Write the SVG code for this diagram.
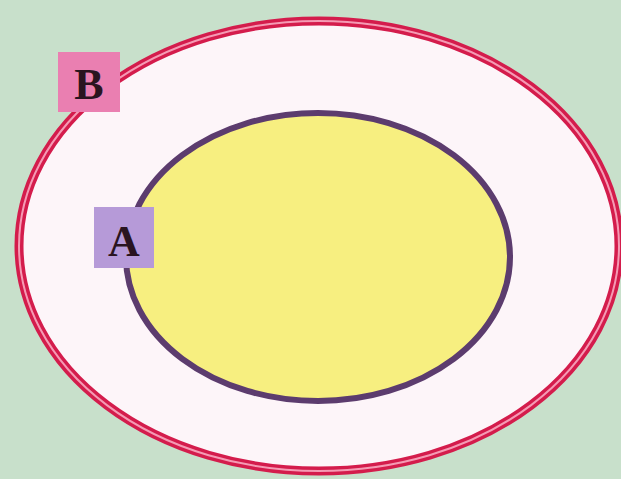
<svg xmlns="http://www.w3.org/2000/svg" width="621" height="479" viewBox="0 0 621 479">
<style>
.lbl{font-family:"Liberation Serif","DejaVu Serif",serif;font-weight:bold;font-size:44px;fill:#2a1420;text-anchor:middle}
</style>
<rect x="0" y="0" width="621" height="479" fill="#c8e0cb"/>
<g id="B">
<ellipse cx="319" cy="246" rx="300" ry="225" fill="#fdf5f9" stroke="#d41c4c" stroke-width="9"/>
<ellipse cx="319" cy="246" rx="300" ry="225" fill="none" stroke="#f59ab4" stroke-width="2"/>
<rect x="58" y="52" width="62" height="60" fill="#ea7fb1"/>
<text class="lbl" x="89" y="99">B</text>
</g>
<g id="A">
<ellipse cx="318" cy="257" rx="192" ry="144" fill="#f7ef80" stroke="#5c3c6e" stroke-width="6"/>
<rect x="94" y="207" width="60" height="61" fill="#b69ad8"/>
<text class="lbl" x="124" y="256">A</text>
</g>
<g id="connectors"/>
</svg>
